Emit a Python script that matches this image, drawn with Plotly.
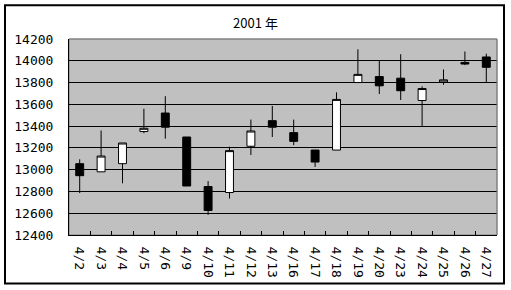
import plotly.graph_objects as go

dates = ["4/2", "4/3", "4/4", "4/5", "4/6", "4/9", "4/10", "4/11", "4/12", "4/13",
         "4/16", "4/17", "4/18", "4/19", "4/20", "4/23", "4/24", "4/25", "4/26", "4/27"]
opens = [13055, 12980, 13055, 13350, 13520, 13300, 12845, 12790, 13215, 13450,
         13340, 13180, 13180, 13800, 13855, 13840, 13635, 13805, 13985, 14035]
highs = [13095, 13360, 13245, 13560, 13675, 13300, 12895, 13210, 13460, 13585,
         13460, 13180, 13710, 14105, 14000, 14060, 13765, 13920, 14085, 14065]
lows = [12785, 12980, 12875, 13335, 13285, 12850, 12585, 12735, 13135, 13300,
        13225, 13025, 13180, 13800, 13695, 13640, 13400, 13780, 13960, 13800]
closes = [12945, 13125, 13245, 13380, 13390, 12850, 12625, 13175, 13355, 13390,
          13260, 13070, 13645, 13875, 13770, 13725, 13745, 13825, 13970, 13940]

title_text = "2001 年"
y_ticks = list(range(12400, 14201, 200))

fig = go.Figure(go.Candlestick(
    x=dates, open=opens, high=highs, low=lows, close=closes,
    increasing=dict(line=dict(color="black", width=1), fillcolor="white"),
    decreasing=dict(line=dict(color="black", width=1), fillcolor="black"),
    whiskerwidth=0,
    showlegend=False,
))

tick_font = dict(family="DejaVu Sans Mono", size=13, color="black")

fig.update_layout(
    width=511, height=290,
    margin=dict(l=69, r=14, t=39, b=53),
    paper_bgcolor="white",
    plot_bgcolor="#C0C0C0",
    boxgap=0.63, boxgroupgap=0,
    title=dict(text=title_text, x=0.5, xref="container", xanchor="center",
               y=1 - 23 / 290, yanchor="middle", yref="container",
               font=dict(family="Noto Sans CJK JP", size=13, color="black")),
    xaxis=dict(type="category", rangeslider=dict(visible=False),
               showgrid=False, showline=True, linecolor="black", linewidth=1,
               ticks="inside", tickson="boundaries", ticklen=4, tickcolor="black",
               tickangle=90, tickfont=tick_font, ticklabelstandoff=8,
               range=[-0.5, len(dates) - 0.5]),
    yaxis=dict(range=[12400, 14200], tickvals=y_ticks,
               ticktext=[str(v) for v in y_ticks],
               showgrid=True, gridcolor="black", gridwidth=1,
               showline=True, linecolor="black", linewidth=1,
               zeroline=False, ticks="", tickfont=tick_font,
               ticklabelstandoff=12),
    shapes=[
        dict(type="rect", xref="paper", yref="paper", x0=0, x1=1, y0=0, y1=1,
             line=dict(color="#808080", width=1), layer="below"),
        dict(type="line", xref="paper", yref="paper", x0=0, x1=1, y0=1, y1=1,
             line=dict(color="#808080", width=1), layer="above"),
        dict(type="line", xref="paper", yref="paper", x0=1, x1=1, y0=0, y1=1,
             line=dict(color="#808080", width=1), layer="above"),
        dict(type="rect", xref="paper", yref="paper",
             x0=-64 / 428, x1=1 + 7 / 428, y0=-49 / 198, y1=1 + 34 / 198,
             line=dict(color="black", width=2), layer="above"),
    ],
)

fig.write_html("out.html")
